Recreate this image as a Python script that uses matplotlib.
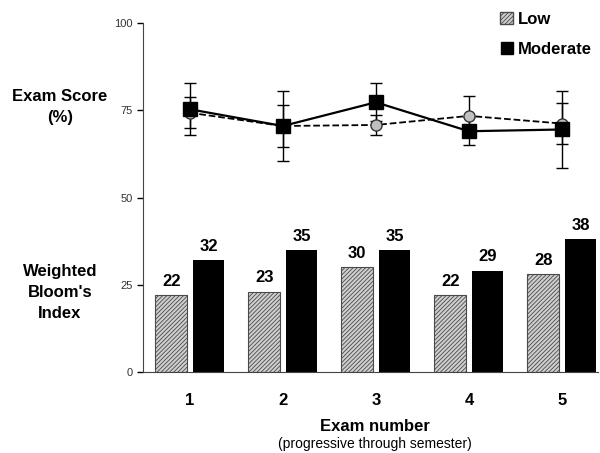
'''
Exam score and weighted Bloom's index per exam
'''

import numpy as np
import matplotlib.pyplot as plt
from matplotlib.patches import Patch
from matplotlib.lines import Line2D

plt.rcParams['font.family'] = ['Liberation Sans', 'DejaVu Sans']
plt.rcParams['hatch.linewidth'] = 0.6

exams = [1, 2, 3, 4, 5]
exam_labels = ['1', '2', '3', '4', '5']

# exam scores (%) with error bars
score_low = [74.3, 70.5, 70.8, 73.4, 71.2]
score_low_err = [4.5, 6.0, 2.8, 5.8, 6.0]
score_mod = [75.3, 70.5, 77.3, 69.0, 69.5]
score_mod_err = [7.5, 10.0, 5.5, 4.0, 11.0]

# weighted Bloom's index
bloom_low = [22, 23, 30, 22, 28]
bloom_mod = [32, 35, 35, 29, 38]

x = np.array(exams)
w = 0.34

fig = plt.figure(figsize=(6, 4.53), dpi=100)
ax = fig.add_axes([0.238, 0.179, 0.759, 0.77])

b1 = ax.bar(x - 0.2, bloom_low, w, facecolor='#cfcfcf', edgecolor='#4a4a4a',
            hatch='////////', linewidth=0.8)
b2 = ax.bar(x + 0.2, bloom_mod, w, color='black')

for xi, v in zip(x, bloom_low):
    ax.text(xi - 0.2, v + 1.8, str(v), ha='center', va='bottom', fontsize=12, fontweight='bold')
for xi, v in zip(x, bloom_mod):
    ax.text(xi + 0.2, v + 1.8, str(v), ha='center', va='bottom', fontsize=12, fontweight='bold')

ax.errorbar(x, score_low, yerr=score_low_err, fmt='o', linestyle='--', color='black',
            markerfacecolor='#c0c0c0', markeredgecolor='#333333', markersize=8,
            capsize=4, elinewidth=1, linewidth=1.3)
ax.errorbar(x, score_mod, yerr=score_mod_err, fmt='s', linestyle='-', color='black',
            markersize=10, capsize=4, elinewidth=1, linewidth=1.6)

ax.set_xlim(0.495, 5.39)
ax.set_ylim(0, 100)
ax.set_yticks([0, 25, 50, 75, 100])
ax.tick_params(axis='y', labelsize=8, labelcolor='#333333', length=4, width=1)
ax.set_xticks(x)
ax.set_xticklabels(exam_labels, fontsize=12, fontweight='bold')
ax.tick_params(axis='x', length=0, pad=15)
for s in ['top', 'right']:
    ax.spines[s].set_visible(False)
ax.spines['left'].set_color('#444444')
ax.spines['bottom'].set_color('#444444')

fig.text(0.1, 0.764, 'Exam Score\n(%)', ha='center', va='center', fontsize=12,
         fontweight='bold', linespacing=1.5)
fig.text(0.1, 0.355, "Weighted\nBloom's\nIndex", ha='center', va='center', fontsize=12,
         fontweight='bold', linespacing=1.5)
fig.text(0.625, 0.058, 'Exam number', ha='center', va='center', fontsize=12, fontweight='bold')
fig.text(0.625, 0.02, '(progressive through semester)', ha='center', va='center', fontsize=10)

handles = [Patch(facecolor='#cfcfcf', edgecolor='#4a4a4a', hatch='////////'),
           Line2D([], [], marker='s', color='black', linestyle='none', markersize=8)]
leg = ax.legend(handles, ['Low', 'Moderate'], loc='upper right', bbox_to_anchor=(1.02, 1.075),
                frameon=False, prop={'size': 12, 'weight': 'bold'}, handlelength=0.8,
                handletextpad=0.3, labelspacing=0.9)

plt.savefig('out.png', dpi=100)
